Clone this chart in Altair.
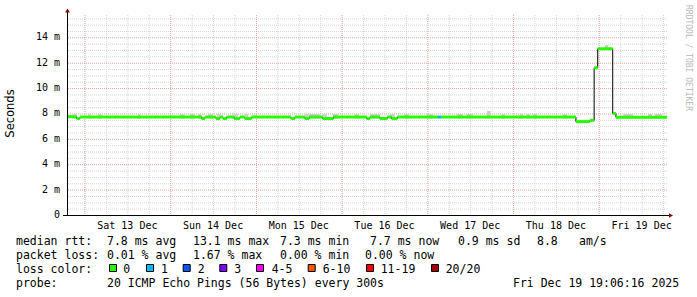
import altair as alt
import pandas as pd

# ---------------- data ----------------
# hours since graph start (Fri Dec 12 19:06:16) -> median rtt (ms), loss bucket
seg_start = [0, 2.7, 3.6, 37.7, 38.6, 41.7, 42.8, 43.7, 44.7, 46.8, 48.4, 49.8, 51.7,
             62.7, 63.8, 66.6, 67.8, 71.6, 74.6, 83.9, 84.8, 87.6, 89.7, 90.9, 92.5,
             103.8, 104.7, 142.5, 146.4, 147.6, 148.6, 152.8, 153.7]
seg_value = [7.74, 7.6, 7.72, 7.6, 7.72, 7.6, 7.72, 7.6, 7.72, 7.6, 7.72, 7.6, 7.72,
             7.6, 7.72, 7.6, 7.72, 7.6, 7.72, 7.6, 7.72, 7.6, 7.72, 7.6, 7.72,
             7.72, 7.72, 7.36, 7.46, 11.6, 13.1, 8.0, 7.7]
seg_loss = ["0"] * 25 + ["1"] + ["0"] * 7

# smoke (spread of pings) visible above the median
smoke_start = [1.6, 5.9, 8.7, 19.9, 31.6, 34.4, 36.7, 39.5, 41.9, 46.5, 49.8, 66.6, 71.6,
               74.5, 80.6, 84.8, 90.4, 94.4, 100.7, 109.1, 111.9, 117.6, 121.7, 126.8,
               128.7, 130.5, 138.9, 150.6, 155.7, 162.7, 164.6]
smoke_end = [2.7, 6.6, 9.7, 20.6, 33.0, 35.8, 37.7, 40.9, 42.8, 47.9, 50.7, 70.8, 72.7,
             75.9, 81.8, 87.6, 91.8, 95.8, 102.5, 110.9, 113.7, 118.6, 122.6, 127.7,
             129.6, 131.6, 140.0, 151.5, 158.5, 163.8, 166.6]
smoke_low = [7.6] * 27 + [13.0] + [7.6] * 3
smoke_high = [7.95] * 21 + [8.2] + [7.95] * 5 + [13.4] + [7.95] * 3

loss_labels = ["0", "1", "2", "3", "4-5", "6-10", "11-19", "20/20"]
loss_colors = ["#26ff00", "#00b8ff", "#0059ff", "#7e00ff", "#ff00ff", "#ff5500", "#ff0000", "#a10000"]

day_labels = ["Sat 13 Dec", "Sun 14 Dec", "Mon 15 Dec", "Tue 16 Dec",
              "Wed 17 Dec", "Thu 18 Dec", "Fri 19 Dec"]
y_ticks = [0, 2, 4, 6, 8, 10, 12, 14]

legend_line1 = ["median rtt:", "7.8 ms avg", "13.1 ms max", "7.3 ms min", "7.7 ms now",
                "0.9 ms sd", "8.8", "am/s"]
legend_line2 = ["packet loss:", "0.01 % avg", "1.67 % max", "0.00 % min", "0.00 % now"]
legend_line3 = ["loss color:"]
legend_line4 = ["probe:", "20 ICMP Echo Pings (56 Bytes) every 300s", "Fri Dec 19 19:06:16 2025"]

# ---------------- layout ----------------
OX, OY = 67, 15
W, H = 600, 200
HOURS = 168
YMAX = 15.76
midnight_h = 24 - (19 + 6 / 60 + 16 / 3600)

line1_x = [16, 107, 193, 280, 370, 458, 537, 579]
line2_x = [16, 107, 193, 280, 365]
line4_x = [16, 107, 513]
box_x = [109, 146, 182.7, 219.3, 256, 307.7, 366, 431]
box_lbl_x = [123.3, 161, 197.7, 234.3, 271.7, 322.7, 380.7, 445.7]
base_y = [245, 259, 272.5, 286.5]

MONO = "DejaVu Sans Mono"
xs = alt.Scale(domain=[0, HOURS], nice=False, zero=False)
ys = alt.Scale(domain=[0, YMAX], nice=False, zero=False)
cs = alt.Scale(domain=loss_labels, range=loss_colors)

# ---------------- frames ----------------
seg_end = seg_start[1:] + [HOURS]
df_seg = pd.DataFrame({"t0": seg_start, "t1": seg_end, "v": seg_value, "loss": seg_loss})
df_line = pd.DataFrame({"t": seg_start + [HOURS], "v": seg_value + [seg_value[-1]]})
df_smoke = pd.DataFrame({"t0": smoke_start, "t1": smoke_end, "lo": smoke_low, "hi": smoke_high})

major_x = [midnight_h + 24 * k for k in range(7)]
minor_x = [midnight_h + 6 * k for k in range(28) if k % 4 != 0 and midnight_h + 6 * k < HOURS]
major_y = [2 * k for k in range(1, 8)]
minor_y = [0.5 * k for k in range(1, 32) if k % 4 != 0]
label_x = [midnight_h + 12 + 24 * k for k in range(7)]

one = pd.DataFrame({"a": [0]})


def hgrid(vals, color):
    return alt.Chart(pd.DataFrame({"v": vals})).mark_rule(
        color=color, strokeDash=[1, 1], strokeWidth=1, yOffset=0.5
    ).encode(y=alt.Y("v:Q", scale=ys, axis=None))


def vgrid(vals, color):
    return alt.Chart(pd.DataFrame({"t": vals})).mark_rule(
        color=color, strokeDash=[1, 1], strokeWidth=1, xOffset=0.5
    ).encode(x=alt.X("t:Q", scale=xs, axis=None))


GRID_MINOR = "#d6d6d6"
GRID_MAJOR = "#e6a0a0"

layers = [
    hgrid(minor_y, GRID_MINOR),
    vgrid(minor_x, GRID_MINOR),
    hgrid(major_y, GRID_MAJOR),
    vgrid(major_x, GRID_MAJOR),
    alt.Chart(df_smoke).mark_rect(color="#cccccc").encode(
        x=alt.X("t0:Q", scale=xs, axis=None), x2="t1",
        y=alt.Y("lo:Q", scale=ys, axis=None), y2="hi"),
    alt.Chart(df_line).mark_line(interpolate="step-after", color="#000000", strokeWidth=1).encode(
        x=alt.X("t:Q", scale=xs, axis=None), y=alt.Y("v:Q", scale=ys, axis=None)),
    alt.Chart(df_seg).mark_rule(strokeWidth=3).encode(
        x=alt.X("t0:Q", scale=xs, axis=None), x2="t1",
        y=alt.Y("v:Q", scale=ys, axis=None),
        color=alt.Color("loss:N", scale=cs, legend=None)),
    # axes lines
    alt.Chart(one).mark_rule(color="#000000", strokeWidth=1).encode(
        x=alt.value(0.5), y=alt.value(-5), y2=alt.value(201)),
    alt.Chart(one).mark_rule(color="#000000", strokeWidth=1).encode(
        x=alt.value(-4), x2=alt.value(602), y=alt.value(200.5)),
    alt.Chart(one).mark_point(shape="triangle-up", filled=True, size=22, color="#8b0000", opacity=1).encode(
        x=alt.value(0.5), y=alt.value(-4.5)),
    alt.Chart(one).mark_point(shape="triangle-right", filled=True, size=22, color="#8b0000", opacity=1).encode(
        x=alt.value(604), y=alt.value(200.5)),
]

# y tick labels
df_yl = pd.DataFrame({"v": y_ticks,
                      "label": ["0\u00a0\u00a0" if v == 0 else f"{v} m" for v in y_ticks]})
layers.append(alt.Chart(df_yl).mark_text(align="right", baseline="middle", font=MONO, fontSize=10,
                                         color="#000000").encode(
    x=alt.value(60 - OX), y=alt.Y("v:Q", scale=ys, axis=None), text="label:N"))

# x day labels
df_xl = pd.DataFrame({"t": label_x, "label": day_labels})
layers.append(alt.Chart(df_xl).mark_text(align="center", baseline="alphabetic", font=MONO, fontSize=10,
                                         color="#000000").encode(
    x=alt.X("t:Q", scale=xs, axis=None), y=alt.value(228.5 - OY), text="label:N"))

# y title
layers.append(alt.Chart(one).mark_text(angle=270, align="center", baseline="middle",
                                       font="DejaVu Sans", fontSize=11.5, color="#000000").encode(
    x=alt.value(11 - OX), y=alt.value(113.5 - OY), text=alt.value("Seconds")))

# side watermark
layers.append(alt.Chart(one).mark_text(angle=90, align="left", baseline="middle",
                                       font=MONO, fontSize=8, color="#b8b8b8").encode(
    x=alt.value(687.5 - OX), y=alt.value(5 - OY), text=alt.value("RRDTOOL / TOBI OETIKER")))

# legend text
rows = []
for txt, px in zip(legend_line1, line1_x):
    rows.append({"text": txt, "px": px - OX, "py": base_y[0] - OY})
for txt, px in zip(legend_line2, line2_x):
    rows.append({"text": txt, "px": px - OX, "py": base_y[1] - OY})
rows.append({"text": legend_line3[0], "px": 16 - OX, "py": base_y[2] - OY})
for txt, px in zip(loss_labels, box_lbl_x):
    rows.append({"text": txt, "px": px - OX, "py": base_y[2] - OY})
for txt, px in zip(legend_line4, line4_x):
    rows.append({"text": txt, "px": px - OX, "py": base_y[3] - OY})
df_leg = pd.DataFrame(rows)
layers.append(alt.Chart(df_leg).mark_text(align="left", baseline="alphabetic", font=MONO, fontSize=11.5,
                                          color="#000000").encode(
    x=alt.X("px:Q", scale=None), y=alt.Y("py:Q", scale=None), text="text:N"))

# legend colour boxes
df_box = pd.DataFrame({"loss": loss_labels,
                       "x0": [b - OX + 0.5 for b in box_x],
                       "x1": [b - OX + 7.5 for b in box_x],
                       "y0": [264.5 - OY] * 8, "y1": [271.5 - OY] * 8})
layers.append(alt.Chart(df_box).mark_rect(stroke="#000000", strokeWidth=1).encode(
    x=alt.X("x0:Q", scale=None), x2="x1", y=alt.Y("y0:Q", scale=None), y2="y1",
    color=alt.Color("loss:N", scale=cs, legend=None)))

chart = alt.layer(*layers).properties(
    width=W, height=H,
    autosize=alt.AutoSizeParams(type="none"),
    padding={"left": OX, "top": OY, "right": 697 - OX - W, "bottom": 297 - OY - H},
    background="#ffffff",
).configure_view(strokeWidth=0)

chart.save("out.html", embed_options={"renderer": "svg", "actions": False})
